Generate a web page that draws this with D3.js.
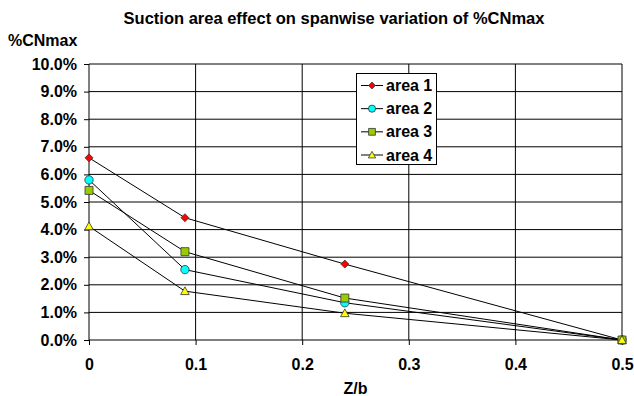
<!DOCTYPE html>
<html><head><meta charset="utf-8">
<script src="https://cdn.jsdelivr.net/npm/d3@7/dist/d3.min.js"></script>
<style>
body{margin:0;background:#fff;}
text{font-family:"Liberation Sans",Arial,sans-serif;font-weight:bold;fill:#000;}
</style></head>
<body><svg id="c" width="634" height="396"></svg>
<script>
const zb = [0, 0.09, 0.24, 0.5];
const seriesNames = ["area 1", "area 2", "area 3", "area 4"];
const area1 = [0.066, 0.0443, 0.0275, 0];
const area2 = [0.058, 0.0255, 0.0135, 0];
const area3 = [0.0542, 0.032, 0.0152, 0];
const area4 = [0.0412, 0.0177, 0.0097, 0];
const yTicks = [0,0.01,0.02,0.03,0.04,0.05,0.06,0.07,0.08,0.09,0.10];
const xTicks = [0,0.1,0.2,0.3,0.4,0.5];
const xTickLabels = ["0","0.1","0.2","0.3","0.4","0.5"];
const titleText = "Suction area effect on spanwise variation of %CNmax";
const yTitle = "%CNmax";
const xTitle = "Z/b";

const colors = ["#FF0000","#00FFFF","#99CC00","#FFFF00"];
const allSeries = [area1, area2, area3, area4];

// marker shapes (custom, equal-proportion)
function markerPath(k, s){
  if(k===0) return `M0,${-s}L${s},0L0,${s}L${-s},0Z`;
  if(k===1) { const r=s; return `M${r},0A${r},${r} 0 1,1 ${-r},0A${r},${r} 0 1,1 ${r},0Z`; }
  if(k===2) return `M${-s},${-s}H${s}V${s}H${-s}Z`;
  return `M0,${-s}L${s},${s*0.8}L${-s},${s*0.8}Z`;
}
const mSizes = [4, 4.2, 4, 4.3];

const svg = d3.select("#c");
const L = 89, R = 622, T = 64, B = 340;
const x = d3.scaleLinear().domain([0,0.5]).range([L,R]);
const y = d3.scaleLinear().domain([0,0.10]).range([B,T]);

// gridlines
const g = svg.append("g");
g.selectAll("line.h").data(yTicks.slice(1)).join("line")
  .attr("x1",L).attr("x2",R).attr("y1",d=>y(d)).attr("y2",d=>y(d))
  .attr("stroke","#000").attr("stroke-width",1);
g.selectAll("line.v").data(xTicks.slice(1)).join("line")
  .attr("y1",T).attr("y2",B).attr("x1",d=>x(d)).attr("x2",d=>x(d))
  .attr("stroke","#000").attr("stroke-width",1);

// axes
const yAxis = d3.axisLeft(y).tickValues(yTicks).tickFormat(d3.format(".1%")).tickSize(5).tickPadding(7);
const ya = svg.append("g").attr("transform",`translate(${L},0)`).call(yAxis);
const xAxis = d3.axisBottom(x).tickValues(xTicks).tickFormat((d,i)=>xTickLabels[i]).tickSize(5).tickPadding(14);
const xa = svg.append("g").attr("transform",`translate(0,${B})`).call(xAxis);
[ya,xa].forEach(a=>{
  a.select(".domain").attr("stroke","#000");
  a.selectAll(".tick line").attr("stroke","#000");
  a.selectAll("text").style("font-size","16px").style("font-family","'Liberation Sans',Arial,sans-serif").style("font-weight","bold").attr("fill","#000");
});
ya.select(".domain").attr("d",`M0,${T}V${B}`);
xa.select(".domain").attr("d",`M${L},0H${R}`);

// series
const line = d3.line().x((d,i)=>x(zb[i])).y(d=>y(d));
allSeries.forEach((s,k)=>{
  svg.append("path").attr("d",line(s)).attr("fill","none").attr("stroke","#000").attr("stroke-width",1);
});
allSeries.forEach((s,k)=>{
  svg.append("g").selectAll("path").data(s).join("path")
    .attr("transform",(d,i)=>`translate(${x(zb[i])},${y(d)})`)
    .attr("d",markerPath(k,mSizes[k]))
    .attr("fill",colors[k]).attr("stroke","#333").attr("stroke-width",0.8);
});

// titles
svg.append("text").attr("x",334).attr("y",24).attr("text-anchor","middle").style("font-size","16.5px").text(titleText);
svg.append("text").attr("x",8).attr("y",46).style("font-size","16px").text(yTitle);
svg.append("text").attr("x",(L+R)/2).attr("y",394).attr("text-anchor","middle").style("font-size","16px").text(xTitle);

// legend
const lg = svg.append("g");
lg.append("rect").attr("x",356.5).attr("y",73.5).attr("width",80).attr("height",91).attr("fill","#fff").attr("stroke","#000");
const ly = d3.scaleLinear().domain([0,3]).range([85.5,155]);
seriesNames.forEach((n,k)=>{
  const yy = ly(k);
  lg.append("line").attr("x1",361).attr("x2",383).attr("y1",yy).attr("y2",yy).attr("stroke","#000");
  lg.append("path").attr("transform",`translate(372,${yy})`).attr("d",markerPath(k,mSizes[k]*0.85))
    .attr("fill",colors[k]).attr("stroke","#333").attr("stroke-width",0.8);
  lg.append("text").attr("x",386).attr("y",yy+5.5).style("font-size","16px").text(n);
});
</script></body></html>
